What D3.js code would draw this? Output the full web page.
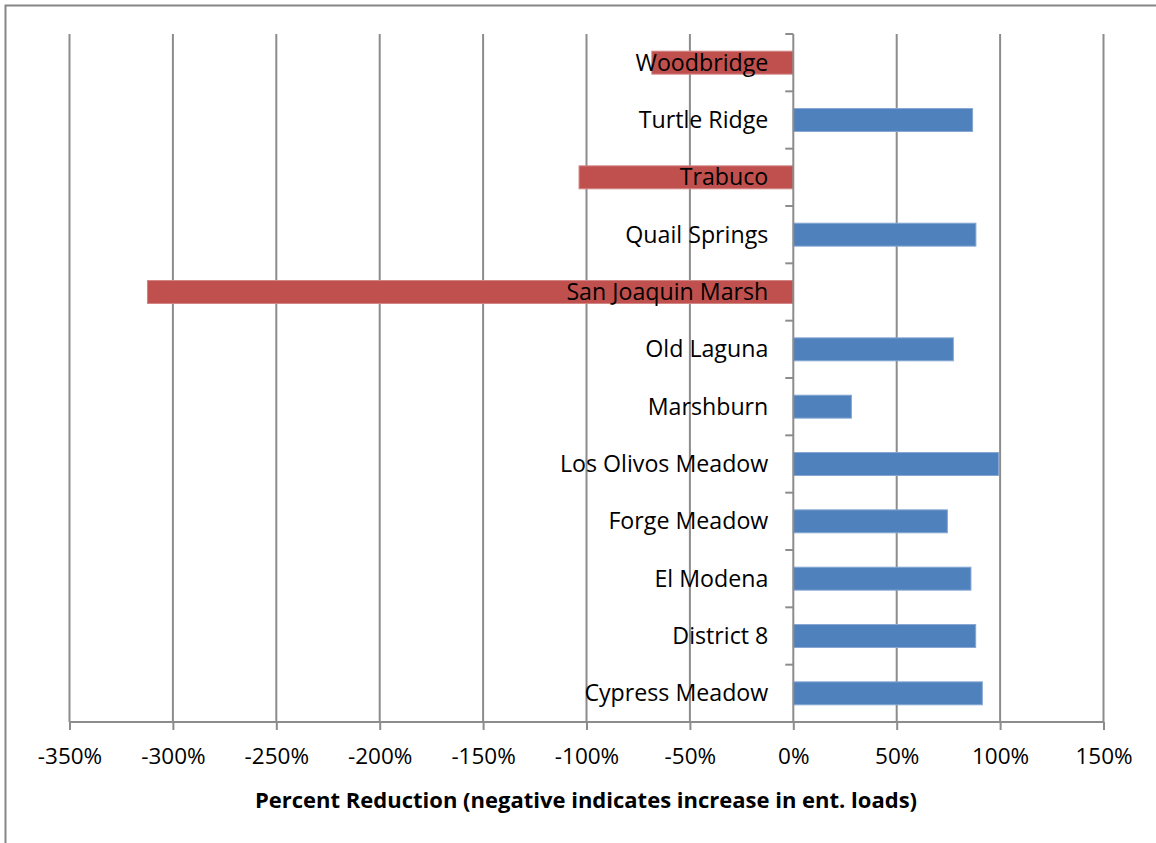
<!DOCTYPE html>
<html>
<head>
<meta charset="utf-8">
<script src="https://cdn.jsdelivr.net/npm/d3@7"></script>
<style>
  body { margin: 0; background: #fff; }
  svg { display: block; }
  text { font-family: "Open Sans", "Noto Sans", sans-serif; fill: #000; }
</style>
</head>
<body>
<svg id="chart" width="1156" height="843"></svg>
<script>
// datos del grafico (de abajo hacia arriba como en el original)
let sitios = ["Cypress Meadow", "District 8", "El Modena", "Forge Meadow", "Los Olivos Meadow",
  "Marshburn", "Old Laguna", "San Joaquin Marsh", "Quail Springs", "Trabuco", "Turtle Ridge", "Woodbridge"];
let reduccion = [91.4, 88.2, 85.9, 74.5, 99.3, 28.1, 77.4, -312.3, 88.3, -103.6, 86.7, -68.4];
let ticksX = [-350, -300, -250, -200, -150, -100, -50, 0, 50, 100, 150];
let tituloX = "Percent Reduction (negative indicates increase in ent. loads)";

let svg = d3.select("#chart");
let arriba = 34, abajo = 722, izq = 69.5, der = 1103.5;

// borde del area del grafico (recortado a la derecha y abajo)
svg.append("rect")
  .attr("x", 5.5).attr("y", 5.5)
  .attr("width", 1200).attr("height", 900)
  .attr("fill", "none").attr("stroke", "#868686").attr("stroke-width", 2);

let x = d3.scaleLinear().domain([-350, 150]).range([izq, der]);

// orden invertido: el primero queda abajo
let y = d3.scaleBand()
  .domain(sitios.slice().reverse())
  .range([arriba, abajo])
  .paddingInner(0.6).paddingOuter(0.3);

// lineas de la grilla
svg.append("g").selectAll("line")
  .data(ticksX.filter(d => d !== 0))
  .enter().append("line")
  .attr("x1", d => x(d)).attr("x2", d => x(d))
  .attr("y1", arriba).attr("y2", abajo)
  .attr("stroke", "#8c8c8c").attr("stroke-width", 2);

// eje x
let ejeX = d3.axisBottom(x)
  .tickValues(ticksX)
  .tickSize(8)
  .tickPadding(18)
  .tickFormat(d => d + "%");

let gx = svg.append("g")
  .attr("transform", `translate(0,${abajo})`)
  .call(ejeX);
gx.select(".domain").attr("stroke", "#8c8c8c").attr("stroke-width", 2)
  .attr("d", `M${izq},0H${der}`);
gx.selectAll(".tick line").attr("stroke", "#8c8c8c").attr("stroke-width", 2);
gx.selectAll(".tick text")
  .style("font-family", "'Open Sans', sans-serif")
  .style("font-size", "22.5px")
  .attr("fill", "#000");

// barras
svg.append("g").selectAll("rect")
  .data(sitios)
  .enter().append("rect")
  .attr("x", (d, i) => Math.min(x(0), x(reduccion[i])))
  .attr("width", (d, i) => Math.abs(x(reduccion[i]) - x(0)))
  .attr("y", d => y(d))
  .attr("height", y.bandwidth())
  .attr("fill", (d, i) => reduccion[i] < 0 ? "#c0504d" : "#4f81bd")
  .attr("stroke", (d, i) => reduccion[i] < 0 ? "#d08583" : "#86a7d3")
  .attr("stroke-width", 1);

// eje de categorias en 0%
let paso = (abajo - arriba) / sitios.length;
let gy = svg.append("g");
gy.append("line")
  .attr("x1", x(0)).attr("x2", x(0))
  .attr("y1", arriba).attr("y2", abajo)
  .attr("stroke", "#8c8c8c").attr("stroke-width", 2);
gy.selectAll("line.marca")
  .data(d3.range(sitios.length + 1))
  .enter().append("line")
  .attr("class", "marca")
  .attr("x1", x(0) - 8).attr("x2", x(0))
  .attr("y1", i => arriba + i * paso).attr("y2", i => arriba + i * paso)
  .attr("stroke", "#8c8c8c").attr("stroke-width", 2);

// etiquetas de categorias
svg.append("g").selectAll("text")
  .data(sitios)
  .enter().append("text")
  .attr("x", x(0) - 25)
  .attr("y", d => y(d) + y.bandwidth() / 2)
  .attr("dy", "0.35em")
  .attr("text-anchor", "end")
  .style("font-size", "23.2px")
  .text(d => d);

// titulo del eje x
svg.append("text")
  .attr("x", 586).attr("y", 800)
  .attr("dy", "0.35em")
  .attr("text-anchor", "middle")
  .style("font-size", "22px")
  .style("font-weight", "bold")
  .text(tituloX);
</script>
</body>
</html>
